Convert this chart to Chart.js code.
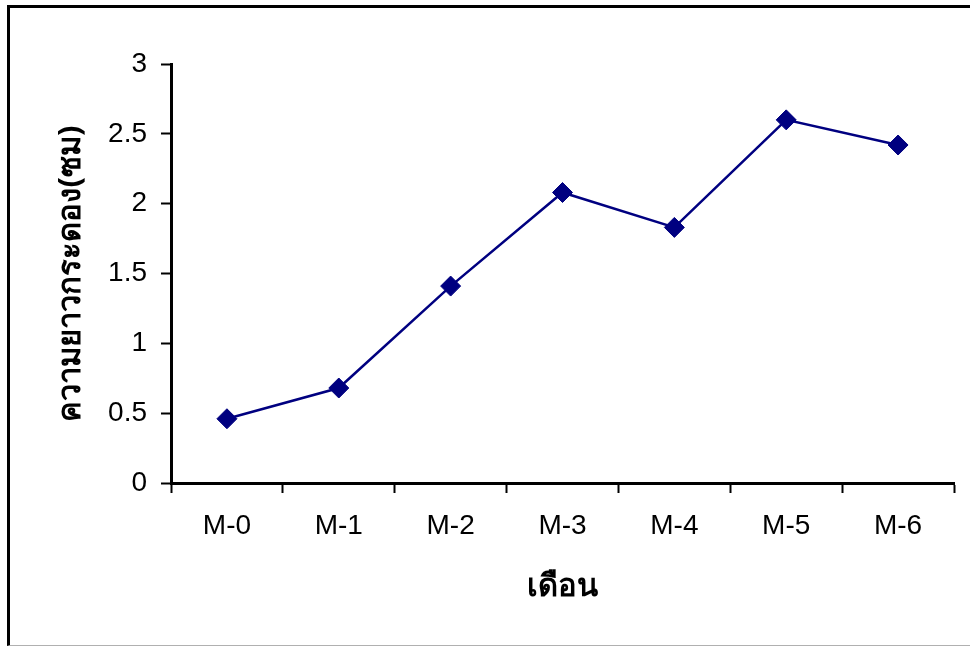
<!DOCTYPE html>
<html>
<head>
<meta charset="utf-8">
<script src="https://cdn.jsdelivr.net/npm/chart.js@4"></script>
<style>
  html, body { margin: 0; padding: 0; background: #fff; }
  #frame {
    position: absolute; left: 7px; top: 5px; width: 980px; height: 637px;
    border-left: 3px solid #000; border-top: 3px solid #000; border-bottom: 1px solid #b0b0b0;
  }
  #wrap { position: absolute; left: 0; top: 0; width: 970px; height: 646px; }
</style>
</head>
<body>
<div id="frame"></div>
<div id="wrap"><canvas id="chart" width="970" height="646"></canvas></div>
<script>
const months = ['M-0', 'M-1', 'M-2', 'M-3', 'M-4', 'M-5', 'M-6']
const carapaceLength = [0.46, 0.68, 1.41, 2.08, 1.83, 2.60, 2.42]
const yTicks = [0, 0.5, 1, 1.5, 2, 2.5, 3]

const tickFont = { family: "'Liberation Sans', Arial, sans-serif", size: 28 }
const titleFont = { family: "Tahoma, 'Noto Sans', sans-serif", size: 31, weight: 'bold' }

new Chart(document.getElementById('chart'), {
  type: 'line',
  data: {
    labels: months,
    datasets: [{
      data: carapaceLength,
      borderColor: '#000080',
      backgroundColor: '#000080',
      borderWidth: 2.5,
      pointStyle: 'rectRot',
      pointRadius: 10,
      pointHoverRadius: 10,
      pointBorderWidth: 1,
      tension: 0,
    }],
  },
  options: {
    responsive: false,
    animation: false,
    events: [],
    layout: { padding: { left: 50, top: 64, right: 16, bottom: 20 } },
    plugins: {
      legend: { display: false },
      tooltip: { enabled: false },
    },
    scales: {
      x: {
        offset: true,
        grid: { drawOnChartArea: false, offset: true, tickLength: 10, tickWidth: 2, tickColor: '#000' },
        border: { color: '#000', width: 3 },
        ticks: { color: '#000', font: tickFont, padding: 16 },
        title: { display: true, text: 'เดือน', color: '#000', font: titleFont, padding: { top: 0, bottom: 20 } },
        afterFit: (scale) => { scale.height = 143 },
      },
      y: {
        min: 0,
        max: 3,
        afterBuildTicks: (scale) => { scale.ticks = yTicks.map(v => ({ value: v })) },
        grid: { drawOnChartArea: false, tickLength: 10, tickWidth: 2, tickColor: '#000' },
        border: { color: '#000', width: 3 },
        ticks: { color: '#000', font: tickFont, padding: 14, callback: (v) => String(v) },
        title: { display: true, text: 'ความยาวกระดอง(ซม)', color: '#000', font: titleFont, padding: { top: 3, bottom: 0 } },
        afterFit: (scale) => { scale.width = 121 },
      },
    },
  },
})
</script>
</body>
</html>
